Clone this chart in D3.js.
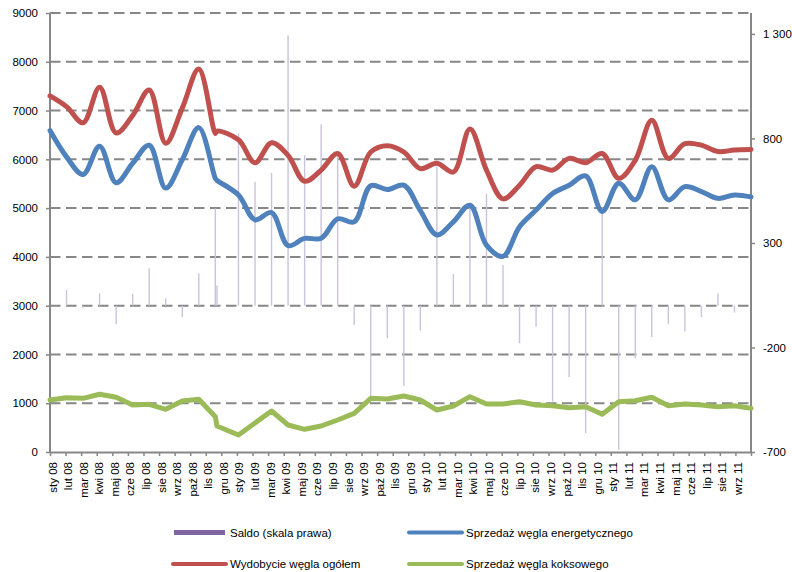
<!DOCTYPE html>
<html><head><meta charset="utf-8">
<script src="https://cdn.jsdelivr.net/npm/d3@7"></script>
<style>body{margin:0;background:#fff}svg{display:block;font-family:"Liberation Sans",Arial,sans-serif}</style>
</head><body><svg id="c" width="792" height="572"></svg>
<script>
// x-axis category labels (45 months)
const monthLabels = ["sty 08","lut 08","mar 08","kwi 08","maj 08","cze 08","lip 08","sie 08","wrz 08","paź 08","lis 08","gru 08",
  "sty 09","lut 09","mar 09","kwi 09","maj 09","cze 09","lip 09","sie 09","wrz 09","paź 09","lis 09","gru 09",
  "sty 10","lut 10","mar 10","kwi 10","maj 10","cze 10","lip 10","sie 10","wrz 10","paź 10","lis 10","gru 10",
  "sty 11","lut 11","mar 11","kwi 11","maj 11","cze 11","lip 11","sie 11","wrz 11"];
// position of each observation on the (hidden) secondary horizontal axis
const pointT = [0,1,2,3,4,5,6,7,8,9,10,10.1,
  11.4,12.4,13.4,14.4,15.4,16.4,17.4,18.4,19.4,20.4,21.4,22.4,23.4,24.4,25.4,26.4,
  27.4,28.4,29.4,30.4,31.4,32.4,33.4,34.4,35.4,36.4,37.4,38.4,39.4,40.4,41.4,42.4];
const wydobycie = [7300,7080,6750,7480,6540,6900,7420,6330,7050,7850,6530,6580,
  6400,5930,6340,6080,5550,5780,6120,5450,6150,6280,6150,5810,5920,5740,6620,5780,
  5190,5470,5850,5780,6020,5930,6120,5610,5980,6800,6020,6320,6290,6160,6190,6200];
const sprzedazEnerg = [6590,6050,5690,6270,5520,5920,6290,5410,5990,6650,5610,5570,
  5270,4760,4910,4230,4380,4380,4780,4720,5460,5380,5470,4950,4450,4720,5060,4240,
  4010,4620,4960,5300,5470,5660,4930,5510,5170,5850,5170,5440,5340,5200,5270,5230];
const sprzedazKoks = [1066,1114,1100,1183,1121,963,977,875,1045,1080,724,533,
  349,595,840,553,465,533,656,793,1100,1086,1148,1066,861,943,1134,984,
  984,1031,963,949,908,929,773,1031,1052,1121,949,984,963,929,949,896];
const saldo = [null,75,-12,59,-89,56,179,35,-55,155,465,96,
  824,592,635,1293,720,868,736,-92,-435,-156,-384,-119,664,151,480,535,
  194,-180,-100,-459,-342,-610,470,-689,-251,-151,-87,-124,-55,59,-33,null];
const leftTicks = [0,1000,2000,3000,4000,5000,6000,7000,8000,9000];
const rightTicks = [-700,-200,300,800,1300];
const legendItems = [
  {name:"Saldo (skala prawa)", color:"#8064a2", type:"rect", col:0, row:0},
  {name:"Sprzedaż węgla energetycznego", color:"#4f81bd", type:"line", col:1, row:0},
  {name:"Wydobycie węgla ogółem", color:"#c0504d", type:"line", col:0, row:1},
  {name:"Sprzedaż węgla koksowego", color:"#9bbb59", type:"line", col:1, row:1}
];

const svg = d3.select("#c");
const L = 50, R = 751, T = 13, B = 452;
const x = d3.scaleLinear().domain([0, 42.4]).range([L, R]);
const xAx = d3.scalePoint().domain(d3.range(monthLabels.length + 1)).range([L, R]);
const yL = d3.scaleLinear().domain([0, 9000]).range([B, T]);
const yR = d3.scaleLinear().domain([-700, 1400]).range([B, T]);
const gray = "#878787";

// gridlines
svg.append("g").selectAll("line").data(leftTicks.filter(d => d > 0)).join("line")
  .attr("x1", L).attr("x2", R).attr("y1", d => yL(d)).attr("y2", d => yL(d))
  .attr("stroke", gray).attr("stroke-width", 2).attr("stroke-dasharray", "10.5,5.5");

// bars (secondary axis)
const pts = pointT.map((t, i) => ({t, i}));
svg.append("g").selectAll("rect").data(pts.filter(p => saldo[p.i] != null)).join("rect")
  .attr("x", p => x(p.t) - 0.7).attr("width", 1.4)
  .attr("y", p => Math.min(yR(saldo[p.i]), yR(0)))
  .attr("height", p => Math.abs(yR(saldo[p.i]) - yR(0)))
  .attr("fill", "#cbc3de");

// axes
const axL = svg.append("g").attr("transform", `translate(${L},0)`)
  .call(d3.axisLeft(yL).tickValues(leftTicks).tickSize(4).tickSizeOuter(0).tickPadding(8).tickFormat(d3.format("d")));
const axR = svg.append("g").attr("transform", `translate(${R},0)`)
  .call(d3.axisRight(yR).tickValues(rightTicks).tickSize(4).tickSizeOuter(0).tickPadding(8)
    .tickFormat(d => Math.abs(d) >= 1000 ? d3.format(",")(d).replace(",", " ") : String(d)));
const axB = svg.append("g").attr("transform", `translate(0,${B})`)
  .call(d3.axisBottom(xAx).tickSize(4).tickSizeOuter(0).tickFormat(i => monthLabels[i] || ""));
axB.selectAll("text").attr("text-anchor", "end").attr("transform", "rotate(-90)")
  .attr("x", -10).attr("y", 2).attr("dy", "0.35em");
[axL, axR, axB].forEach(a => {
  a.select(".domain").attr("stroke", gray).attr("stroke-width", 2);
  a.selectAll(".tick line").attr("stroke", gray).attr("stroke-width", 1.5);
  a.selectAll("text").attr("fill", "#000").attr("font-size", "11.5px");
});
axL.select(".domain").attr("d", `M0,${T}V${B}`);
axR.select(".domain").attr("d", `M0,${T}V${B}`);

// lines
const mk = (vals, curve) => d3.line().defined(p => vals[p.i] != null)
  .x(p => x(p.t)).y(p => yL(vals[p.i])).curve(curve);
const series = [
  {vals: sprzedazKoks, color: "#9bbb59", curve: d3.curveLinear},
  {vals: sprzedazEnerg, color: "#4f81bd", curve: d3.curveCatmullRom.alpha(0.5)},
  {vals: wydobycie, color: "#c0504d", curve: d3.curveCatmullRom.alpha(0.5)}
];
series.forEach(s => {
  svg.append("path").datum(pts).attr("d", mk(s.vals, s.curve))
    .attr("fill", "none").attr("stroke", s.color).attr("stroke-width", 5)
    .attr("stroke-linejoin", "round").attr("stroke-linecap", "round");
});

// legend
const colX = [173, 409], rowY = [532.5, 564];
const lg = svg.append("g").selectAll("g").data(legendItems).join("g")
  .attr("transform", d => `translate(${colX[d.col]},${rowY[d.row]})`);
lg.filter(d => d.type === "rect").append("rect").attr("x", 1).attr("y", -2.5).attr("width", 51).attr("height", 5).attr("fill", d => d.color);
lg.filter(d => d.type === "line").append("line").attr("x1", 0).attr("x2", 53).attr("y1", 0).attr("y2", 0)
  .attr("stroke", d => d.color).attr("stroke-width", 4).attr("stroke-linecap", "round");
lg.append("text").attr("x", 57).attr("dy", "0.35em").attr("font-size", "11.5px").attr("fill", "#000").text(d => d.name);
</script></body></html>
